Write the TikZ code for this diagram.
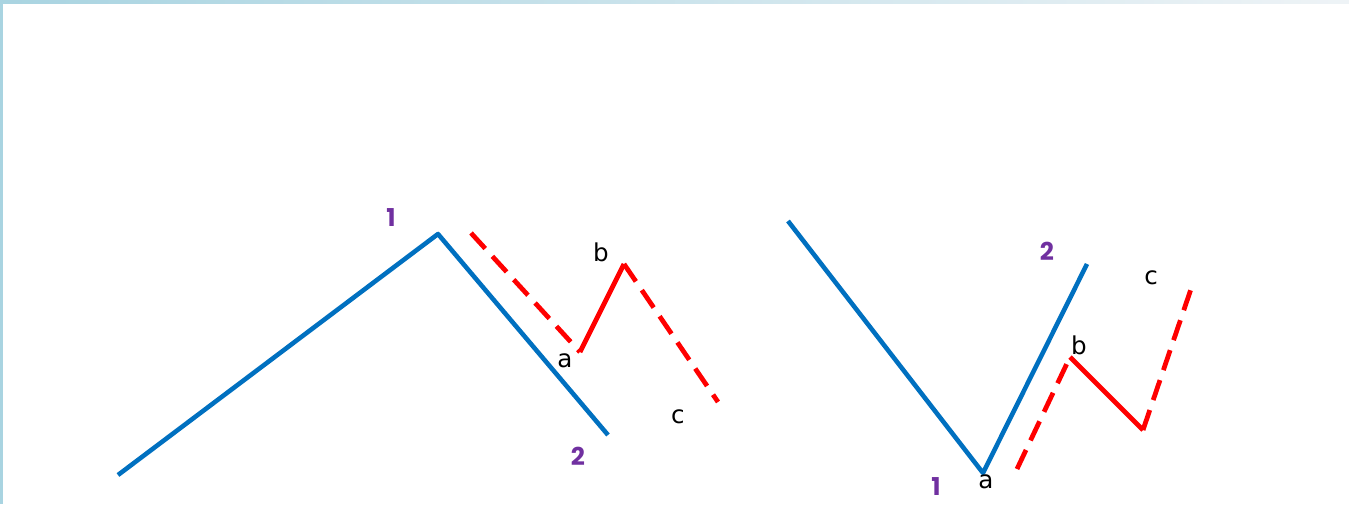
\documentclass[tikz,border=0pt]{standalone}
\usepackage{fontspec}
\setmainfont{DejaVu Sans}
\newfontfamily\countfont{Poppins}
\definecolor{waveblue}{HTML}{0070C0}
\definecolor{wavered}{HTML}{FF0000}
\definecolor{countpurple}{HTML}{7030A0}
\definecolor{frameblue}{HTML}{A9D4E1}
\definecolor{framelight}{HTML}{EEF3F6}
\tikzset{
  impulse/.style={draw=waveblue, line width=2.6pt},
  corrsolid/.style={draw=wavered, line width=2.7pt},
  corrdash/.style={draw=wavered, line width=2.7pt, dash pattern=on 12pt off 6pt},
  wavecount/.style={text=countpurple, inner sep=0pt, font=\countfont\fontsize{14}{16}\selectfont\bfseries},
  subwave/.style={text=black, inner sep=1pt, font=\fontsize{14}{16}\selectfont},
}
\begin{document}
\begin{tikzpicture}[x=0.02cm, y=-0.02cm]

  \useasboundingbox (0,0) rectangle (1349,504);

  % -- frame strips --
  \shade[left color=frameblue, right color=framelight] (0,0) rectangle (1349,3);
  \fill[frameblue] (0,0) rectangle (3,504);

  % -- Zigzag, falling correction --
  \coordinate (s0) at (118,475);
  \coordinate (s1) at (438,234);
  \coordinate (s2) at (608,435);
  \draw[impulse, line join=round] (s0) -- (s1) -- (s2);

  \coordinate (ra0) at (471,233);
  \coordinate (ra) at (580,352);
  \coordinate (rb) at (624,264);
  \coordinate (rc) at (718,402);
  \draw[corrdash] (ra0) -- (ra);
  \draw[corrsolid, line join=miter] (ra) -- (rb);
  \draw[corrdash] (rb) -- (rc);

  \node[wavecount] (one) at (391,218) {1};
  \node[wavecount] (two) at (578,456) {2};
  \node[subwave] (la) at (565,361) {a};
  \node[subwave] (lb) at (601,252) {b};
  \node[subwave] (lc) at (678,417) {c};

  % -- Zigzag, rising correction --
  \coordinate (t0) at (788,221);
  \coordinate (t1) at (983,473);
  \coordinate (t2) at (1087,264);
  \draw[impulse, line join=round] (t0) -- (t1) -- (t2);

  \coordinate (ua0) at (1017,469);
  \coordinate (ub) at (1070,357);
  \coordinate (uc0) at (1143,430);
  \coordinate (uc) at (1192,286);
  \draw[corrdash] (ua0) -- (ub);
  \draw[corrsolid, line join=miter] (ub) -- (uc0);
  \draw[corrdash] (uc0) -- (uc);

  \node[wavecount] (one2) at (936,487) {1};
  \node[wavecount] (two2) at (1047,251) {2};
  \node[subwave] (ma) at (986,482) {a};
  \node[subwave] (mb) at (1079,345) {b};
  \node[subwave] (mc) at (1151,278) {c};

\end{tikzpicture}
\end{document}
